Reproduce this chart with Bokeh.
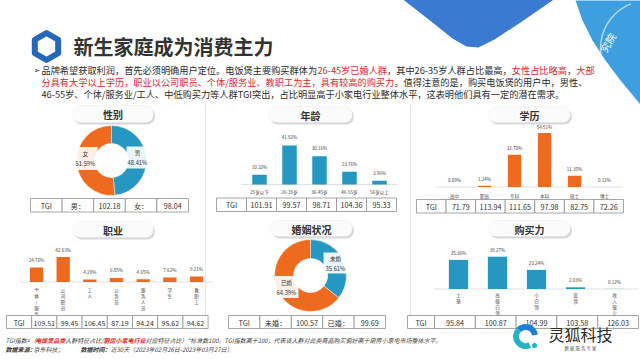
import numpy as np
from bokeh.plotting import figure
from bokeh.models import Range1d, BoxAnnotation, ColumnDataSource
from bokeh.embed import file_html
from bokeh.resources import INLINE
from bokeh.core.properties import value

# ---------------- DATA ----------------
gender_labels = ["男", "女"]
gender_share = [48.41, 51.59]
gender_tgi = [102.18, 98.04]

age_labels = ["25岁以下", "26-35岁", "36-45岁", "46-55岁", "56岁以上"]
age_share = [10.32, 41.82, 30.16, 13.76, 3.96]
age_tgi = [101.91, 99.57, 98.71, 104.36, 95.33]

edu_labels = ["高中", "职高", "专科", "本科", "硕士", "博士"]
edu_share = [0.09, 1.24, 32.70, 54.51, 11.35, 0.12]
edu_tgi = [71.79, 113.94, 111.65, 97.98, 82.75, 72.26]

job_labels = ["个体/服务业", "公司职员", "工人", "公务员", "服务人员", "学生", "教职工"]
job_share = [24.76, 42.63, 4.28, 6.85, 4.65, 7.62, 9.21]
job_tgi = [109.51, 99.45, 106.45, 87.19, 94.24, 95.62, 94.62]

marriage_labels = ["未婚", "已婚"]
marriage_share = [35.61, 64.39]
marriage_tgi = [100.57, 99.69]

buy_labels = ["土豪", "高级白领", "小白领", "蓝领", "收入很少"]
buy_share = [35.36, 39.27, 23.24, 2.03, 0.12]
buy_tgi = [95.84, 100.87, 104.99, 103.58, 126.03]

title_text = "新生家庭成为消费主力"
tab_titles = ["性别", "年龄", "学历", "职业", "婚姻状况", "购买力"]

# ---------------- STYLE ----------------
FONT = "Noto Sans CJK SC"
DARK = "#2b2b2b"
RED = "#e0262c"
BLUE = "#2597c1"
ORANGE = "#ee6a1f"
GRID = "#d9d9d9"

X0, X1, Y0, Y1 = 0, 640, 359, 0   # image-pixel coordinate frame
p = figure(width=640, height=359, x_range=Range1d(X0, X1), y_range=Range1d(Y0, Y1),
           x_axis_type=None, y_axis_type=None, output_backend="svg",
           toolbar_location=None, min_border=0)
p.outline_line_color = None
p.background_fill_color = "white"
p.border_fill_color = "white"

extra_x, extra_y = {}, {}


def em_w(s):
    w = 0.0
    for ch in s:
        o = ord(ch)
        if o >= 0x2E80 or ch in "，。、：；（）":
            w += 1.0
        elif ch.isdigit():
            w += 0.555
        elif ch == "-":
            w += 0.34
        elif ch == "/":
            w += 0.36
        elif ch == ".":
            w += 0.27
        elif ch == "%":
            w += 0.86
        elif ch == "T":
            w += 0.51
        elif ch == "G":
            w += 0.64
        elif ch == "I":
            w += 0.27
        elif ch == "*":
            w += 0.42
        elif ch == "=":
            w += 0.555
        elif ch == " ":
            w += 0.22
        else:
            w += 0.55
    return w


def txt(x, y, s, size, color=DARK, align="left", baseline="middle", style="normal",
        font=FONT, angle=0.0, level="glyph"):
    p.text(x=[x], y=[y], text=[s], text_font=value(font), text_font_size=f"{size}px",
           text_color=color, text_align=align, text_baseline=baseline,
           text_font_style=style, angle=angle, level=level)


def rich_line(x, y, segments, size, base_style="normal"):
    for s, color, st in segments:
        txt(x, y, s, size, color=color, style=st or base_style)
        x += em_w(s) * size


# ---------------- HEADER ----------------
p.scatter(x=[46], y=[46], marker="hex", size=27, angle=np.pi / 6,
          fill_color="white", line_color="#2767b9", line_width=6, line_join="round")

txt(73, 46, title_text, 20, color="#333333", style="bold")
txt(33, 69.5, "➢", 8, color=DARK, font="DejaVu Sans")

HS = 9.2
rich_line(41, 69.5, [
    ("品牌希望获取利润，首先必须明确用户定位。电饭煲主要购买群体为", DARK, None),
    ("26-45岁已婚人群", RED, None),
    ("，其中26-35岁人群占比最高，", DARK, None),
    ("女性占比略高", RED, None),
    ("，", DARK, None),
    ("大部", RED, None)], HS)
rich_line(41, 81.5, [
    ("分具有大学以上学历，职业以公司职员、个体/服务业、教职工为主，具有较高的购买力", RED, None),
    ("。值得注意的是，购买电饭煲的用户中，男性、", DARK, None)], HS)
rich_line(41, 93.5, [
    ("46-55岁、个体/服务业/工人、中低购买力等人群TGI突出，占比明显高于小家电行业整体水平，这表明他们具有一定的潜在需求。", DARK, None)], HS)

# panel separators
p.segment(x0=[205, 410], y0=[104, 104], x1=[205, 410], y1=[330, 330],
          line_color="#e6e6e6", line_width=1)

# ---------------- TABS ----------------
tab_boxes = [(72, 153, 105, 122), (268, 352, 106, 122), (488, 570, 106, 122),
             (72, 153, 221, 237), (270, 352, 220, 236), (488, 570, 220, 236)]
for (l, r, t, b), name in zip(tab_boxes, tab_titles):
    p.add_layout(BoxAnnotation(left=l + 1.5, right=r + 1.5, top=t + 2, bottom=b + 2,
                               fill_color="#8c8c8c", fill_alpha=0.35, line_color=None,
                               border_radius=8, level="underlay"))
    p.add_layout(BoxAnnotation(left=l, right=r, top=t, bottom=b, fill_color="#fbfbfb",
                               fill_alpha=1, line_color="#dcdcdc", line_width=0.8,
                               border_radius=8, level="underlay"))
    txt((l + r) / 2, (t + b) / 2 + 0.5, name, 10, color="#333333", align="center", style="bold")


# ---------------- BAR CHARTS ----------------
def bar_chart(key, labels, shares, color, x_first, dx, bar_w, base_y, s,
              val_gap, cat_gap, vertical):
    n = len(labels)
    xr, yr = key + "_x", key + "_y"
    extra_x[xr] = Range1d((X0 - x_first) / dx, (X1 - x_first) / dx)
    extra_y[yr] = Range1d((base_y - Y0) / s, (base_y - Y1) / s)
    src = ColumnDataSource(dict(
        i=list(range(n)), v=shares, vl=[f"{v:.2f}%" for v in shares],
        cat=[("\n".join(l) if vertical else l) for l in labels]))
    p.segment(x0=[-0.6], y0=[0], x1=[n - 0.4], y1=[0], line_color=GRID, line_width=0.8,
              x_range_name=xr, y_range_name=yr)
    p.vbar(x="i", top="v", bottom=0, width=bar_w / dx, source=src, fill_color=color,
           line_color=None, x_range_name=xr, y_range_name=yr)
    p.text(x="i", y="v", text="vl", source=src, text_font=value(FONT),
           text_font_size="4.6px", text_color="#444444", text_align="center",
           text_baseline="bottom", y_offset=-val_gap, x_range_name=xr, y_range_name=yr)
    p.text(x="i", y=0, text="cat", source=src, text_font=value(FONT),
           text_font_size="4.6px", text_color="#444444", text_align="center",
           text_baseline="top" if vertical else "middle", text_line_height=1.0,
           y_offset=cat_gap, x_range_name=xr, y_range_name=yr)


bar_chart("age", age_labels, age_share, BLUE, 259, 30, 14.5, 184, 0.933, 5, 7.5, False)
bar_chart("edu", edu_labels, edu_share, ORANGE, 454, 30, 13.3, 186.5, 0.99, 3.5, 8.5, False)
bar_chart("job", job_labels, job_share, ORANGE, 36, 26.67, 13.3, 281.5, 0.586, 4.5, 4.5, True)
bar_chart("buy", buy_labels, buy_share, BLUE, 458, 39, 19.3, 288.5, 0.823, 4, 3, True)


# ---------------- DONUTS ----------------
def donut(labels, shares, cx, cy, r_in, r_out, colors, boxes):
    n = len(shares)
    cum = np.concatenate([[0.0], np.cumsum(shares)]) / float(sum(shares))
    src = ColumnDataSource(dict(
        x=[cx] * n, y=[cy] * n,
        start=list(np.pi / 2 - 2 * np.pi * cum[1:]),
        end=list(np.pi / 2 - 2 * np.pi * cum[:-1]),
        color=colors))
    p.annular_wedge(x="x", y="y", inner_radius=r_in, outer_radius=r_out,
                    start_angle="start", end_angle="end", fill_color="color",
                    line_color="white", line_width=0.5, source=src)
    for lab, sh in zip(labels, shares):
        bx, by, bw, bh = boxes[lab]
        p.quad(left=[bx - bw / 2], right=[bx + bw / 2], top=[by - bh / 2], bottom=[by + bh / 2],
               fill_color="white", fill_alpha=0.9, line_color=None)
        txt(bx, by - 4.5, lab, 5.5, color="#333333", align="center")
        txt(bx, by + 5, f"{sh:.2f}%", 5.8, color="#333333", align="center")


donut(gender_labels, gender_share, 111, 160, 17, 35, [BLUE, ORANGE],
      {"男": (137, 157, 22, 22), "女": (85, 158, 24, 23)})
donut(marriage_labels, marriage_share, 310, 275, 17, 36, [BLUE, ORANGE],
      {"未婚": (335, 262.5, 24, 21), "已婚": (286, 286.5, 24, 22)})


# ---------------- TGI TABLES ----------------
def table(x_left, widths, y_top, h, texts, size=7.2):
    edges = np.concatenate([[x_left], x_left + np.cumsum(widths)])
    p.quad(left=edges[:-1], right=edges[1:], top=[y_top] * len(widths),
           bottom=[y_top + h] * len(widths), fill_color="white", line_color="#8f8f8f",
           line_width=0.8)
    cx = (edges[:-1] + edges[1:]) / 2
    p.text(x=list(cx), y=[y_top + h / 2 + 0.5] * len(widths), text=texts,
           text_font=value(FONT), text_font_size=f"{size}px", text_color="#333333",
           text_align="center", text_baseline="middle")


def fmt(v):
    return f"{v:.2f}"


table(30, [31.6] * 5, 198, 13.5,
      ["TGI", gender_labels[0] + "：", fmt(gender_tgi[0]), gender_labels[1] + "：", fmt(gender_tgi[1])])
table(216, [30] * 6, 197.5, 13.5, ["TGI"] + [fmt(v) for v in age_tgi])
table(416, [29.57] * 7, 199, 13.5, ["TGI"] + [fmt(v) for v in edu_tgi])
table(6, [25.2] * 8, 315, 13, ["TGI"] + [fmt(v) for v in job_tgi], size=7)
table(228, [31.4] * 5, 315, 13,
      ["TGI", marriage_labels[0] + "：", fmt(marriage_tgi[0]), marriage_labels[1] + "：", fmt(marriage_tgi[1])])
table(407, [27] + [40.8] * 5, 315, 13, ["TGI"] + [fmt(v) for v in buy_tgi])

# ---------------- FOOTER ----------------
FS = 6
rich_line(5, 340, [
    ("TGI指数=（", "#444444", "italic"),
    ("电饭煲品类", RED, "bold italic"),
    ("人群特征占比/", "#444444", "italic"),
    ("厨房小家电行业", RED, "bold italic"),
    ("对应特征占比）*标准数100。TGI指数高于100，代表该人群对此类商品购买偏好高于厨房小家电市场整体水平。", "#444444", "italic")], FS)
txt(5, 349, "数据来源：", FS, color="#333333", style="bold italic")
txt(33, 349, "京东科技；", FS, color="#444444", style="italic")
txt(80, 349, "数据时间：", FS, color="#333333", style="bold italic")
txt(110, 349, "近30天（2023年02月26日-2023年03月27日）", FS, color="#444444", style="italic")

# ---------------- LOGO ----------------
p.annular_wedge(x=[525, 525], y=[336, 336], inner_radius=6.5, outer_radius=12.5,
                start_angle=[np.pi * 0.05, np.pi * 0.75], end_angle=[np.pi * 0.75, np.pi * 1.65],
                fill_color=["#1f7fd6", "#22b3c8"], line_color=None)
p.scatter(x=[534], y=[345], size=5, fill_color="#22b3c8", line_color=None)
txt(580, 333, "灵狐科技", 16, color="#2a2a2a", align="center")
txt(580, 347, "数 据 服 务 专 家", 4.5, color="#555555", align="center")

# ---------------- TOP-RIGHT DECORATION ----------------
p.patch(x=[400, 432, 452, 466, 478, 494, 520, 552, 552, 400],
        y=[-3, 22, 38, 46, 47, 39, 22, 0, -3, -3],
        fill_color="#3a7ad0", line_color=None, level="overlay")
p.patch(x=[575, 582, 592, 605, 620, 640, 640],
        y=[0, 20, 40, 60, 80, 104, 0],
        fill_color="#3d9fe0", line_color=None, level="overlay")
p.arc(x=[648], y=[48], radius=48, start_angle=np.pi * 0.62, end_angle=np.pi * 1.3,
      line_color="white", line_alpha=0.6, line_width=1.5, level="overlay")
txt(607, 42, "究院", 10, color="white", align="center", angle=np.pi / 3, level="overlay")

p.extra_x_ranges = extra_x
p.extra_y_ranges = extra_y

open("out.html", "w").write(file_html(p, INLINE))
